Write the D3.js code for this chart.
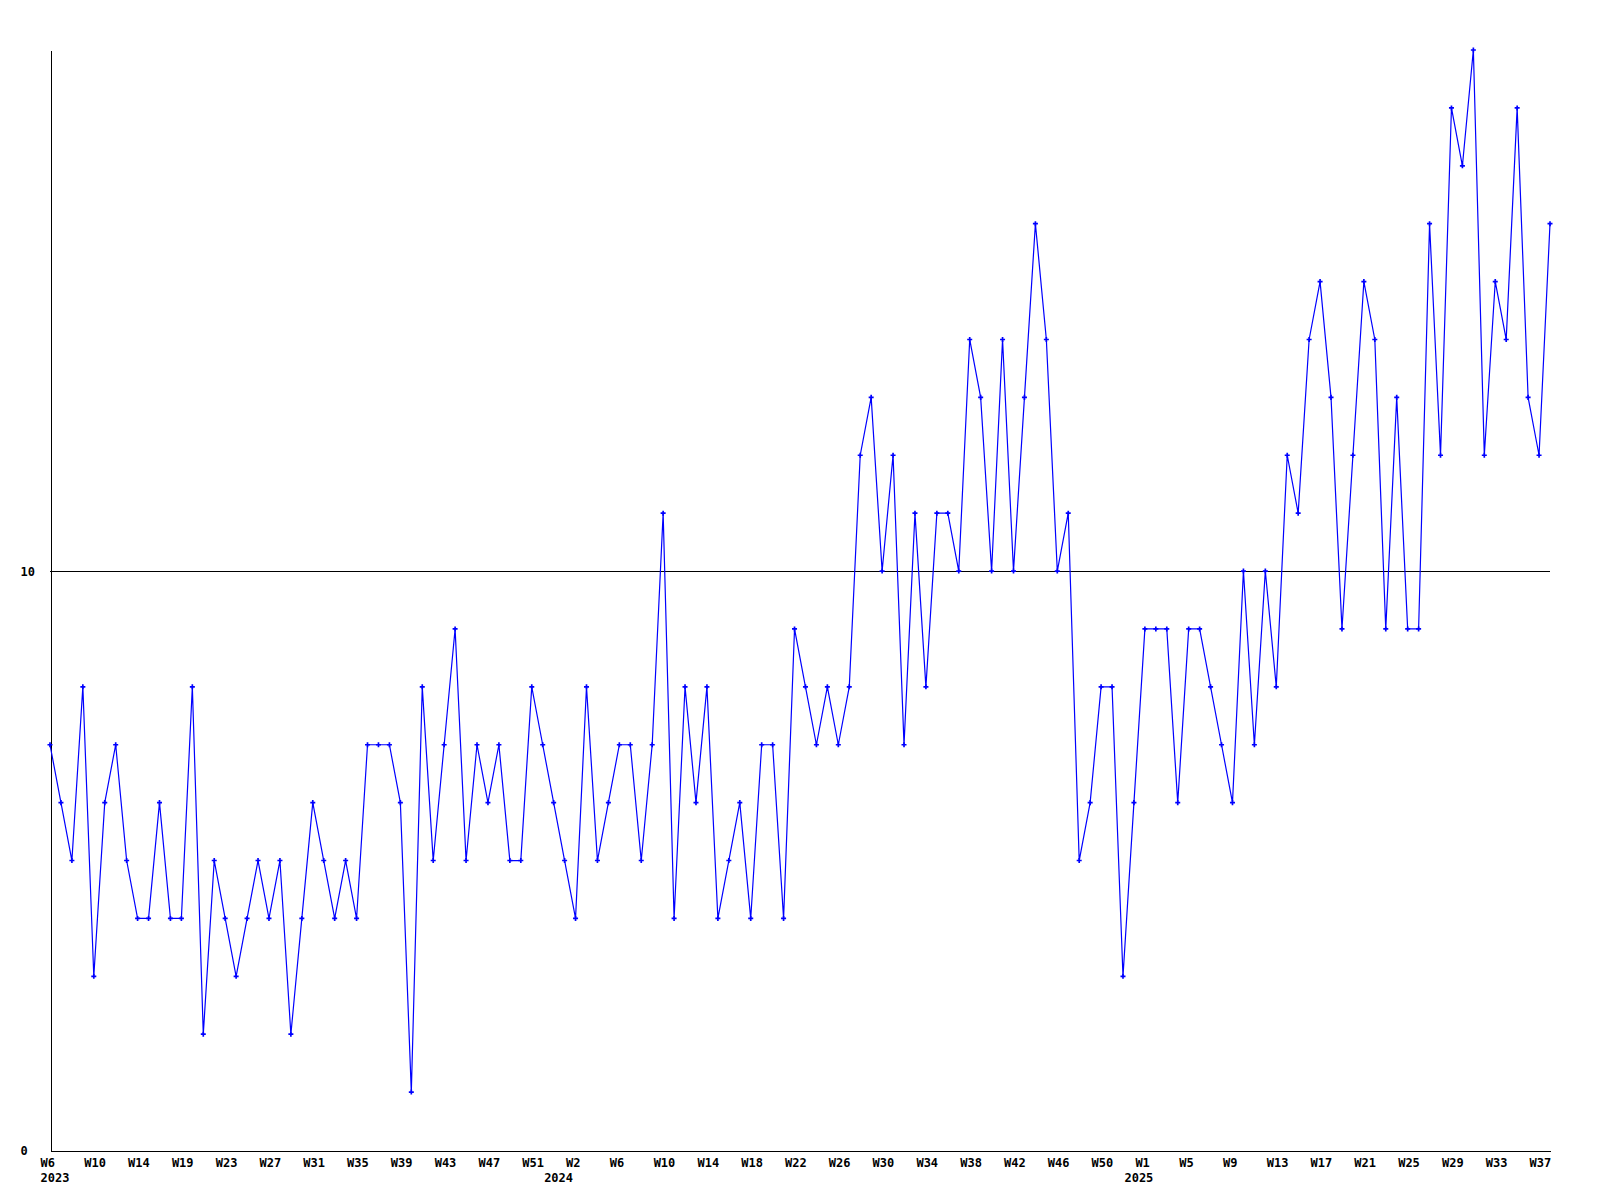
<!DOCTYPE html>
<html>
<head>
<meta charset="utf-8">
<script src="https://cdn.jsdelivr.net/npm/d3@7"></script>
<style>
	html, body { margin: 0; padding: 0; background: #fff; }
	#weekly-chart text { font-family: "DejaVu Sans Mono", "Liberation Mono", monospace; font-weight: bold; font-size: 12px; fill: #000; }
</style>
</head>
<body>
<div id="weekly-chart"></div>
<script>
'use strict'

// weekly counts, split by the year label they sit under
var values2023 = [7, 6, 5, 8, 3, 6, 7, 5, 4, 4, 6, 4, 4, 8, 2, 5, 4, 3, 4, 5, 4, 5, 2, 4, 6, 5, 4, 5,
	4, 7, 7, 7, 6, 1, 8, 5, 7, 9, 5, 7, 6, 7, 5, 5, 8, 7];
var values2024 = [6, 5, 4, 8, 5, 6, 7, 7, 5, 7, 11, 4, 8, 6, 8, 4, 5, 6, 4, 7, 7, 4, 9, 8, 7, 8, 7,
	8, 12, 13, 10, 12, 7, 11, 8, 11, 11, 10, 14, 13, 10, 14, 10, 13, 16, 14, 10, 11, 5, 6, 8, 8, 3];
var values2025 = [6, 9, 9, 9, 6, 9, 9, 8, 7, 6, 10, 7, 10, 8, 12, 11, 14, 15, 13, 9, 12, 15, 14, 9,
	13, 9, 9, 16, 12, 18, 17, 19, 12, 15, 14, 18, 13, 12, 16];

var weekLabels = ['W6', 'W10', 'W14', 'W19', 'W23', 'W27', 'W31', 'W35', 'W39', 'W43', 'W47', 'W51',
	'W2', 'W6', 'W10', 'W14', 'W18', 'W22', 'W26', 'W30', 'W34', 'W38', 'W42', 'W46', 'W50',
	'W1', 'W5', 'W9', 'W13', 'W17', 'W21', 'W25', 'W29', 'W33', 'W37'];
var yearLabels = ['2023', '2024', '2025'];
var yTicks = [0, 10];

var app = {
	init: function(dimensions, padding) {
		this.dimensions = dimensions;
		this.padding = padding;
		this.values = values2023.concat(values2024, values2025);
		this.yearStarts = [0, values2023.length, values2023.length + values2024.length];

		this.svg = d3.select('#weekly-chart')
			.append('svg')
			.attr('width', dimensions.width)
			.attr('height', dimensions.height);

		app.draw();
	},

	draw: function() {
		var svg = app.svg;
		var values = app.values;

		var x = d3.scaleLinear()
			.domain([0, values.length - 1])
			.range([app.padding.left, app.dimensions.width - app.padding.right]);

		var y = d3.scaleLinear()
			.domain([0, d3.max(values)])
			.range([app.dimensions.height - app.padding.bottom, app.padding.top]);

		// grid line at 10
		svg.append('g')
			.selectAll('line')
			.data(yTicks.filter(function(d) { return d > 0; }))
			.enter().append('line')
			.attr('x1', x.range()[0])
			.attr('x2', x.range()[1])
			.attr('y1', function(d) { return Math.round(y(d)) + 0.5; })
			.attr('y2', function(d) { return Math.round(y(d)) + 0.5; })
			.attr('stroke', '#000')
			.attr('shape-rendering', 'crispEdges');

		var tickIdx = d3.range(0, values.length, 4);

		var xAxis = d3.axisBottom(x)
			.tickValues(tickIdx)
			.tickFormat(function(d, i) { return weekLabels[i]; })
			.tickSize(0)
			.tickSizeOuter(0)
			.tickPadding(0);

		var gx = svg.append('g')
			.attr('transform', 'translate(0,' + (y(0) + 0.5) + ')')
			.call(xAxis);
		gx.selectAll('text')
			.attr('text-anchor', 'start')
			.attr('dx', -10)
			.attr('dy', 0)
			.attr('y', 16.5);

		// year row under the weeks
		var xYears = d3.axisBottom(x)
			.tickValues(app.yearStarts)
			.tickFormat(function(d, i) { return yearLabels[i]; })
			.tickSize(0)
			.tickSizeOuter(0);

		var gy2 = svg.append('g')
			.attr('transform', 'translate(0,' + (y(0) + 0.5) + ')')
			.call(xYears);
		gy2.select('.domain').remove();
		gy2.selectAll('text')
			.attr('text-anchor', 'start')
			.attr('dx', -10)
			.attr('dy', 0)
			.attr('y', 31.5);

		var yAxis = d3.axisLeft(y)
			.tickValues(yTicks)
			.tickSize(0)
			.tickSizeOuter(0);

		var gyl = svg.append('g')
			.attr('transform', 'translate(' + (x(0) + 0.5) + ',0)')
			.call(yAxis);
		gyl.selectAll('text')
			.attr('text-anchor', 'start')
			.attr('x', -30)
			.attr('dy', 4);

		svg.selectAll('.domain')
			.attr('stroke', '#000')
			.attr('shape-rendering', 'crispEdges');
		svg.selectAll('.tick line').remove();

		var line = d3.line()
			.x(function(d, i) { return x(i); })
			.y(function(d) { return y(d); });

		svg.append('path')
			.datum(values)
			.attr('d', line)
			.attr('fill', 'none')
			.attr('stroke', '#0000ff')
			.attr('stroke-width', 1.2);

		svg.append('g')
			.selectAll('path')
			.data(values)
			.enter().append('path')
			.attr('transform', function(d, i) { return 'translate(' + x(i) + ',' + y(d) + ')'; })
			.attr('d', d3.symbol().type(d3.symbolCross).size(14))
			.attr('fill', '#0000ff');
	}
};

(function() {
	var dimensions = { width: 1600, height: 1200 };
	var padding = { top: 50, right: 50, bottom: 50, left: 50 };

	app.init(dimensions, padding);
})();
</script>
</body>
</html>
